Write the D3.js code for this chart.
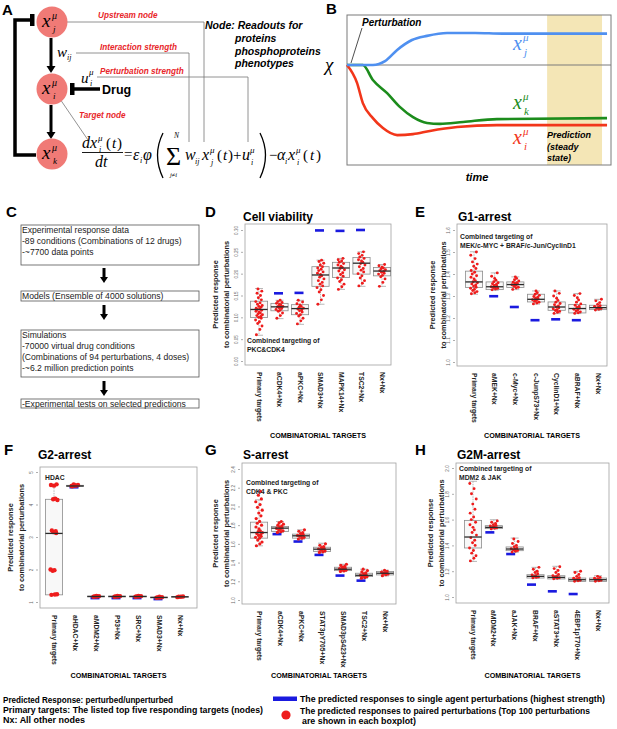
<!doctype html>
<html lang="en">
<head>
<meta charset="UTF-8">
<title>network model predictions</title>
<script src="https://cdn.jsdelivr.net/npm/d3@7"></script>
<style>
  body { margin: 0; background: #fff; }
  text { font-family: "Liberation Sans", Arial, sans-serif; }
  .ser { font-family: "Liberation Serif", "Times New Roman", serif; }
</style>
</head>
<body>
<svg width="617" height="729"></svg>
<script>
// ---------- panel B curves (time, relative level) ----------
const bBlueT  = [0, 9.8, 14.4, 19, 24.6, 30.3, 37.9, 48.5, 59, 73, 98.5];
const bBlueV  = [0, 0, 0.12, 0.47, 0.78, 0.91, 1.0, 1.0, 0.98, 0.98, 0.98];
const bGreenT = [0, 6, 9.8, 15.2, 20, 25, 30.3, 35.2, 44, 56.8, 98.5];
const bGreenV = [0, 0, -0.47, -0.88, -1.31, -1.63, -1.81, -1.84, -1.78, -1.69, -1.66];
const bRedT   = [0, 3.8, 6, 9.8, 13.6, 19, 25, 31.4, 41.7, 56.8, 98.5];
const bRedV   = [0, -0.56, -1.19, -1.66, -1.97, -2.19, -2.16, -2.06, -1.94, -1.88, -1.88];

// ---------- panel C text ----------
const cBoxes = [
  ["Experimental response data", "-89 conditions (Combinations of 12 drugs)", "-~7700 data points"],
  ["Models (Ensemble of 4000 solutions)"],
  ["Simulations", "-70000 virtual drug conditions", "(Combinations of 94 perturbations, 4 doses)", "-~6.2 million prediction points"],
  ["-Experimental tests on selected predictions"]
];

// ---------- boxplot panels: [low whisker, Q1, median, Q3, high whisker] ----------
const dCats = ["Primary targets", "aCDK4+Nx", "aPKC+Nx", "SMAD3+Nx", "MAPK14+Nx", "TSC2+Nx", "Nx+Nx"];
const dStats = [[0.059,0.0995,0.118,0.137,0.166],[0.097,0.115,0.124,0.132,0.139],[0.084,0.106,0.120,0.129,0.139],
  [0.130,0.171,0.197,0.216,0.231],[0.164,0.191,0.213,0.226,0.235],[0.171,0.199,0.224,0.237,0.250],[0.171,0.195,0.206,0.214,0.221]];
const dSingle = [null, 0.155, 0.156, 0.299, 0.298, 0.300, null];
const dPoints = [
  [0.060,0.072,0.080,0.086,0.090,0.094,0.098,0.100,0.102,0.104,0.106,0.108,0.110,0.112,0.114,0.116,0.118,0.119,0.121,0.123,0.125,0.127,0.130,0.133,0.136,0.140,0.145,0.150,0.155,0.160,0.165],
  [0.098,0.104,0.110,0.114,0.116,0.118,0.120,0.122,0.123,0.124,0.125,0.126,0.128,0.130,0.132,0.134,0.136,0.139],
  [0.085,0.092,0.098,0.103,0.106,0.109,0.112,0.115,0.117,0.119,0.121,0.123,0.125,0.128,0.131,0.135,0.139],
  [0.130,0.140,0.150,0.158,0.163,0.168,0.172,0.176,0.180,0.184,0.188,0.192,0.195,0.198,0.201,0.204,0.207,0.210,0.213,0.216,0.220,0.224,0.228,0.231],
  [0.164,0.170,0.176,0.182,0.186,0.190,0.194,0.198,0.202,0.206,0.209,0.212,0.214,0.217,0.220,0.223,0.226,0.229,0.232,0.235],
  [0.172,0.178,0.184,0.190,0.195,0.200,0.204,0.208,0.212,0.216,0.220,0.223,0.226,0.229,0.232,0.235,0.238,0.242,0.246,0.250],
  [0.171,0.180,0.188,0.193,0.196,0.199,0.201,0.203,0.205,0.207,0.209,0.211,0.213,0.215,0.218,0.221]
];
const dTicks = [0, 0.05, 0.10, 0.15, 0.20, 0.25, 0.30];

const eCats = ["Primary targets", "aMEK+Nx", "c-Myc+Nx", "c-JunpS73+Nx", "CyclinD1+Nx", "aBRAF+Nx", "Nx+Nx"];
const eStats = [[1.308,1.339,1.364,1.413,1.501],[1.326,1.329,1.342,1.364,1.405],[1.329,1.339,1.352,1.364,1.387],
  [1.263,1.273,1.285,1.308,1.323],[1.220,1.235,1.250,1.273,1.323],[1.220,1.223,1.243,1.261,1.311],[1.235,1.238,1.247,1.258,1.285]];
const eSingle = [null, 1.299, 1.250, 1.190, 1.194, 1.190, null];
const ePoints = [
  [1.310,1.315,1.320,1.325,1.330,1.335,1.340,1.345,1.350,1.355,1.360,1.365,1.370,1.378,1.385,1.392,1.400,1.408,1.416,1.425,1.435,1.445,1.455,1.470,1.485,1.500],
  [1.328,1.332,1.335,1.338,1.340,1.342,1.345,1.348,1.352,1.356,1.360,1.365,1.372,1.380,1.390,1.405],
  [1.330,1.336,1.340,1.344,1.348,1.351,1.354,1.357,1.360,1.363,1.368,1.374,1.380,1.387],
  [1.264,1.268,1.272,1.276,1.280,1.283,1.286,1.290,1.294,1.298,1.303,1.308,1.315,1.323],
  [1.221,1.226,1.230,1.234,1.238,1.242,1.246,1.250,1.255,1.260,1.266,1.272,1.280,1.290,1.300,1.312,1.323],
  [1.221,1.224,1.228,1.232,1.236,1.240,1.244,1.248,1.253,1.258,1.264,1.272,1.282,1.292,1.302,1.311],
  [1.236,1.240,1.243,1.246,1.249,1.252,1.256,1.262,1.270,1.278,1.285]
];
const eTicks = [1.0, 1.1, 1.2, 1.3, 1.4, 1.5, 1.6];

const fCats = ["Primary targets", "aHDAC+Nx", "aMDM2+Nx", "P53+Nx", "SRC+Nx", "SMAD3+Nx", "Nx+Nx"];
const fStats = [[1.22,1.22,3.11,4.16,4.59],[4.55,4.56,4.57,4.59,4.60],[1.15,1.16,1.17,1.18,1.19],
  [1.15,1.16,1.17,1.18,1.20],[1.15,1.16,1.17,1.18,1.19],[1.12,1.13,1.14,1.15,1.16],[1.15,1.155,1.16,1.165,1.17]];
const fSingle = [null, 4.53, 1.12, 1.12, 1.12, 1.09, null];
const fPoints = [
  [1.22,1.23,1.24,1.96,1.98,2.0,3.12,3.15,3.18,3.2,4.14,4.16,4.18,4.58,4.6,4.62],
  [4.56,4.58,4.6,4.62,4.59,4.57],
  [1.16,1.17,1.18,1.17,1.19],
  [1.16,1.17,1.18,1.17,1.19],
  [1.16,1.17,1.18,1.17,1.19],
  [1.13,1.14,1.15,1.14,1.16],
  [1.15,1.16,1.17,1.16]
];
const fTicks = [1, 2, 3, 4, 5];

const gCats = ["Primary targets", "aCDK4+Nx", "aPKC+Nx", "STAT3pY705+Nx", "SMAD3pS423+Nx", "TSC2+Nx", "Nx+Nx"];
const gStats = [[1.579,1.661,1.721,1.832,2.071],[1.721,1.732,1.768,1.786,1.839],[1.650,1.661,1.686,1.704,1.750],
  [1.507,1.518,1.543,1.564,1.607],[1.304,1.314,1.329,1.350,1.382],[1.232,1.250,1.264,1.286,1.329],[1.257,1.268,1.286,1.304,1.318]];
const gSingle = [null, 1.704, 1.625, 1.482, 1.261, 1.207, null];
const gPoints = [
  [1.58,1.60,1.62,1.64,1.66,1.67,1.68,1.69,1.70,1.71,1.72,1.73,1.74,1.76,1.78,1.80,1.82,1.84,1.87,1.90,1.93,1.96,1.99,2.02,2.05,2.08,2.12,2.16],
  [1.722,1.73,1.74,1.75,1.76,1.765,1.77,1.78,1.79,1.80,1.81,1.825,1.839],
  [1.652,1.66,1.67,1.68,1.685,1.69,1.70,1.71,1.72,1.735,1.75],
  [1.508,1.515,1.525,1.535,1.54,1.545,1.55,1.56,1.57,1.585,1.60],
  [1.305,1.31,1.318,1.325,1.33,1.335,1.34,1.35,1.36,1.37,1.382],
  [1.233,1.24,1.25,1.255,1.26,1.265,1.27,1.28,1.29,1.30,1.315,1.329],
  [1.26,1.27,1.278,1.285,1.29,1.298,1.305,1.318]
];
const gTicks = [1.0, 1.2, 1.4, 1.6, 1.8, 2.0, 2.2, 2.4];

const hCats = ["Primary targets", "aMDM2+Nx", "aJAK+Nx", "BRAF+Nx", "aSTAT3+Nx", "4EBP1pT70+Nx", "Nx+Nx"];
const hStats = [[1.276,1.380,1.465,1.594,1.897],[1.527,1.530,1.540,1.553,1.599],[1.346,1.359,1.372,1.388,1.457],
  [1.147,1.147,1.160,1.173,1.230],[1.140,1.140,1.152,1.165,1.238],[1.121,1.121,1.134,1.147,1.199],[1.121,1.121,1.134,1.147,1.165]];
const hSingle = [null, 1.501, 1.333, 1.096, 1.044, 1.023, null];
const hPoints = [
  [1.28,1.30,1.32,1.34,1.36,1.38,1.40,1.42,1.44,1.46,1.48,1.50,1.52,1.54,1.56,1.58,1.60,1.62,1.65,1.68,1.72,1.76,1.80,1.84,1.88],
  [1.528,1.532,1.536,1.54,1.545,1.55,1.555,1.56,1.57,1.58,1.59],
  [1.348,1.355,1.36,1.365,1.37,1.375,1.38,1.39,1.40,1.415,1.43,1.45],
  [1.148,1.152,1.156,1.16,1.165,1.17,1.18,1.19,1.20,1.215,1.23],
  [1.141,1.145,1.15,1.155,1.16,1.165,1.175,1.19,1.205,1.22,1.235],
  [1.122,1.126,1.13,1.135,1.14,1.145,1.15,1.16,1.175,1.19,1.2],
  [1.122,1.126,1.13,1.135,1.14,1.145,1.152,1.16]
];
const hTicks = [1.0, 1.2, 1.4, 1.6, 1.8, 2.0];

// fixed jitter pattern (fraction of half box width)
const jit = [-0.6,0.2,0.7,-0.3,0.1,-0.8,0.5,-0.1,0.4,-0.5,0.8,-0.2,0.3,0,-0.7,0.6,-0.4,0.15,-0.65,0.45,-0.05,0.75,-0.35,0.25,-0.75,0.55,-0.15,0.35,-0.45,0.65,-0.25];

let svg = d3.select("svg");
const RED = "#ee1c1c", BLUE = "#1a1adf";

// ================= panel A =================
let gA = svg.append("g");
gA.append("text").text("A").attr("x", 2).attr("y", 15).attr("font-size", 15).attr("font-weight", "bold");

// feedback bracket
gA.append("path").attr("d", "M36,155 H15 V20 H31").attr("fill", "none").attr("stroke", "#000").attr("stroke-width", 3.5);
gA.append("rect").attr("x", 30).attr("y", 14).attr("width", 4.5).attr("height", 12).attr("fill", "#000");

// arrows
function arrow(g, x, y1, y2, w, hw, hh) {
  g.append("line").attr("x1", x).attr("x2", x).attr("y1", y1).attr("y2", y2 - hh + 1)
    .attr("stroke", "#000").attr("stroke-width", w);
  g.append("path").attr("d", `M${x - hw / 2},${y2 - hh} L${x + hw / 2},${y2 - hh} L${x},${y2} Z`).attr("fill", "#000");
}
arrow(gA, 51, 38, 73, 3, 9, 7);
arrow(gA, 51, 105, 139, 3, 9, 7);

// gray connector lines
const conn = "#777";
gA.append("path").attr("d", "M63,22 H204 V142").attr("fill", "none").attr("stroke", conn).attr("stroke-width", 0.8);
gA.append("path").attr("d", "M76,53 H189 V142").attr("fill", "none").attr("stroke", conn).attr("stroke-width", 0.8);
gA.append("path").attr("d", "M97,77 H248 V142").attr("fill", "none").attr("stroke", conn).attr("stroke-width", 0.8);
gA.append("line").attr("x1", 60).attr("y1", 99).attr("x2", 88).attr("y2", 140).attr("stroke", conn).attr("stroke-width", 0.8);

// nodes
[["j", 22], ["i", 89], ["k", 154]].forEach(([s, cy]) => {
  gA.append("circle").attr("cx", 52).attr("cy", cy).attr("r", 15.5).attr("fill", "#f07a76");
  gA.append("text").attr("class", "ser").attr("x", 42).attr("y", cy + 5).attr("font-size", 19).attr("font-style", "italic").text("x");
  gA.append("text").attr("class", "ser").attr("x", 52).attr("y", cy - 3).attr("font-size", 10).attr("font-style", "italic").text("μ");
  gA.append("text").attr("class", "ser").attr("x", 53).attr("y", cy + 10).attr("font-size", 9).attr("font-style", "italic").text(s);
});

// drug inhibition
gA.append("line").attr("x1", 73).attr("x2", 100).attr("y1", 89).attr("y2", 89).attr("stroke", "#000").attr("stroke-width", 3.5);
gA.append("rect").attr("x", 70).attr("y", 83).attr("width", 4.5).attr("height", 12).attr("fill", "#000");
gA.append("text").attr("x", 102).attr("y", 94).attr("font-size", 12.5).attr("font-weight", "bold").text("Drug");

gA.append("text").attr("class", "ser").attr("x", 57).attr("y", 57).attr("font-size", 15).attr("font-style", "italic").text("w");
gA.append("text").attr("class", "ser").attr("x", 67).attr("y", 60).attr("font-size", 8).attr("font-style", "italic").text("ij");
gA.append("text").attr("class", "ser").attr("x", 81).attr("y", 83).attr("font-size", 15).attr("font-style", "italic").text("u");
gA.append("text").attr("class", "ser").attr("x", 89).attr("y", 75).attr("font-size", 9).attr("font-style", "italic").text("μ");
gA.append("text").attr("class", "ser").attr("x", 90).attr("y", 86).attr("font-size", 8).attr("font-style", "italic").text("i");

const redLab = [["Upstream node", 98, 18], ["Interaction strength", 100, 50], ["Perturbation strength", 100, 74], ["Target node", 79, 118]];
redLab.forEach(([t, x, y]) => gA.append("text").attr("x", x).attr("y", y).attr("font-size", 8.2)
  .attr("font-weight", "bold").attr("font-style", "italic").attr("fill", "#e8262a").text(t));

[["Node: Readouts for", 205, 29], ["proteins", 235, 42], ["phosphoproteins", 235, 55], ["phenotypes", 235, 67]]
  .forEach(([t, x, y]) => gA.append("text").attr("x", x).attr("y", y).attr("font-size", 10.5)
    .attr("font-weight", "bold").attr("font-style", "italic").text(t));

// equation pieces [text, x, baseline, size, italic]
const eq = [
  ["d", 82, 148, 16, 1], ["x", 90, 148, 16, 1], ["μ", 98, 141, 9, 1], ["i", 99, 152, 8, 1],
  ["(", 106, 148, 15, 0], ["t", 112, 148, 15, 1], [")", 117, 148, 15, 0],
  ["dt", 95, 167, 16, 1], ["=", 124, 159, 15, 0],
  ["ε", 133, 160, 16, 1], ["i", 140, 163, 8, 1], ["φ", 143, 160, 16, 1],
  ["Σ", 166, 165, 26, 0], ["N", 174, 138, 7.5, 1], ["j≠i", 170, 177, 6.5, 1],
  ["w", 185, 160, 16, 1], ["ij", 195, 164, 8, 1], ["x", 202, 160, 16, 1], ["μ", 210, 153, 9, 1], ["j", 211, 165, 8, 1],
  ["(", 217, 160, 15, 0], ["t", 223, 160, 15, 1], [")", 228, 160, 15, 0],
  ["+", 233, 160, 15, 0], ["u", 242, 160, 16, 1], ["μ", 250, 153, 9, 1], ["i", 251, 165, 8, 1],
  ["−", 269, 160, 15, 0], ["α", 277, 160, 16, 1], ["i", 285, 164, 8, 1], ["x", 288, 160, 16, 1], ["μ", 296, 153, 9, 1], ["i", 297, 165, 8, 1],
  ["(", 303, 160, 15, 0], ["t", 310, 160, 15, 1], [")", 316, 160, 15, 0]
];
eq.forEach(([t, x, y, s, it]) => gA.append("text").attr("class", "ser").attr("x", x).attr("y", y)
  .attr("font-size", s).attr("font-style", it ? "italic" : "normal").text(t));
gA.append("line").attr("x1", 82).attr("x2", 123).attr("y1", 152.5).attr("y2", 152.5).attr("stroke", "#000").attr("stroke-width", 0.9);
// big parentheses
gA.append("path").attr("d", "M163,133 Q152,155 163,178").attr("fill", "none").attr("stroke", "#000").attr("stroke-width", 1.3);
gA.append("path").attr("d", "M260,133 Q271,155 260,178").attr("fill", "none").attr("stroke", "#000").attr("stroke-width", 1.3);

// ================= panel B =================
let gB = svg.append("g");
gB.append("text").text("B").attr("x", 326).attr("y", 14).attr("font-size", 15).attr("font-weight", "bold");
const bx = d3.scaleLinear().domain([0, 100]).range([347, 611]);
const by = d3.scaleLinear().domain([-3.125, 1.5625]).range([165, 15]);
gB.append("rect").attr("x", bx(75.8)).attr("y", 15).attr("width", bx(96.6) - bx(75.8)).attr("height", 150).attr("fill", "#f4e6b6");
gB.append("rect").attr("x", 347).attr("y", 15).attr("width", 264).attr("height", 150).attr("fill", "none").attr("stroke", "#7a7a7a").attr("stroke-width", 1);
gB.append("line").attr("x1", 347).attr("x2", 611).attr("y1", by(0)).attr("y2", by(0)).attr("stroke", "#7a7a7a").attr("stroke-width", 1);
const bLine = d3.line().x(d => bx(d[0])).y(d => by(d[1])).curve(d3.curveMonotoneX);
[[bGreenT, bGreenV, "#1c8c1c"], [bRedT, bRedV, "#f2361a"], [bBlueT, bBlueV, "#4f90f0"]].forEach(([t, v, c]) => {
  gB.append("path").attr("d", bLine(t.map((d, i) => [d, v[i]]))).attr("fill", "none").attr("stroke", c).attr("stroke-width", 2.6);
});
gB.append("text").attr("class", "ser").attr("x", 325).attr("y", 71).attr("font-size", 19).attr("font-style", "italic").text("χ");
gB.append("text").attr("x", 362).attr("y", 26).attr("font-size", 10).attr("font-weight", "bold").attr("font-style", "italic").text("Perturbation");
gB.append("line").attr("x1", 362).attr("y1", 28).attr("x2", 351).attr("y2", 63).attr("stroke", "#222").attr("stroke-width", 0.8);
[["j", 50, "#4f90f0"], ["k", 109, "#1c8c1c"], ["i", 144, "#f2361a"]].forEach(([s, y, c]) => {
  gB.append("text").attr("class", "ser").attr("x", 513).attr("y", y).attr("font-size", 20).attr("font-style", "italic").attr("fill", c).text("x");
  gB.append("text").attr("class", "ser").attr("x", 523).attr("y", y - 9).attr("font-size", 11).attr("font-style", "italic").attr("fill", c).text("μ");
  gB.append("text").attr("class", "ser").attr("x", 524).attr("y", y + 6).attr("font-size", 11).attr("font-style", "italic").attr("fill", c).text(s);
});
[["Prediction", 138], ["(steady", 150], ["state)", 161]].forEach(([t, y]) =>
  gB.append("text").attr("x", 547).attr("y", y).attr("font-size", 9).attr("font-weight", "bold").attr("font-style", "italic").text(t));
gB.append("text").attr("x", 477).attr("y", 181).attr("text-anchor", "middle").attr("font-size", 11).attr("font-weight", "bold").attr("font-style", "italic").text("time");

// ================= panel C =================
let gC = svg.append("g");
gC.append("text").text("C").attr("x", 6).attr("y", 217).attr("font-size", 15).attr("font-weight", "bold");
const cBoxY = [[225, 265], [291, 301], [330, 377], [399, 408]];
cBoxes.forEach((lines, i) => {
  const [y0, y1] = cBoxY[i];
  gC.append("rect").attr("x", 21).attr("y", y0).attr("width", 178).attr("height", y1 - y0)
    .attr("fill", "none").attr("stroke", "#555").attr("stroke-width", 0.8);
  lines.forEach((t, j) => gC.append("text").attr("x", 22).attr("y", y0 + 8.3 + j * 11).attr("font-size", 8.6).attr("fill", "#222").text(t));
});
arrow(gC, 104, 268, 283, 3, 8, 6);
arrow(gC, 104, 305, 320, 3, 8, 6);
arrow(gC, 104, 381, 396, 3, 8, 6);

// ================= boxplot panels =================
function boxPanel(p) {
  const g = svg.append("g");
  const x = d3.scalePoint().domain(p.cats).range([p.c0, p.c1]);
  const y = d3.scaleLinear().domain(p.dom).range(p.yr);
  const hw = 8.6;

  g.append("text").text(p.letter).attr("x", p.lx).attr("y", p.ly).attr("font-size", 15).attr("font-weight", "bold");
  g.append("text").text(p.title).attr("x", p.tx).attr("y", p.ly + 4).attr("font-size", 12).attr("font-weight", "bold");

  g.append("rect").attr("x", p.x0).attr("y", p.y0).attr("width", p.x1 - p.x0).attr("height", p.y1 - p.y0)
    .attr("fill", "none").attr("stroke", "#a0a0a0").attr("stroke-width", 0.8);

  const ax = g.append("g").attr("transform", `translate(${p.x0 - 2},0)`)
    .call(d3.axisLeft(y).tickValues(p.ticks).tickFormat(p.fmt).tickSize(2).tickPadding(0));
  ax.select(".domain").remove();
  ax.selectAll("line").attr("stroke", "#777").attr("stroke-width", 0.6);
  ax.selectAll("text").attr("x", null).attr("dy", null).attr("text-anchor", "middle")
    .attr("transform", "translate(-5,0) rotate(-90)").attr("font-size", 4.5).attr("fill", "#666")
    .attr("font-family", "Liberation Sans, Arial, sans-serif");

  // y title
  const ym = (p.y0 + p.y1) / 2;
  [["Predicted response", p.yt], ["to combinatorial perturbations", p.yt + 11]].forEach(([t, xx]) =>
    g.append("text").attr("transform", `translate(${xx},${ym}) rotate(-90)`).attr("dy", "0.35em")
      .attr("text-anchor", "middle").attr("font-size", 7.4).attr("font-weight", "bold").attr("fill", "#222").text(t));

  // single agent bars
  p.single.forEach((v, i) => {
    if (v == null) return;
    g.append("rect").attr("x", x(p.cats[i]) - 5.5 + p.bo).attr("y", y(v) - 1.3).attr("width", 9).attr("height", 2.6).attr("fill", BLUE);
  });

  // boxes
  p.stats.forEach((s, i) => {
    const cx = x(p.cats[i]);
    const [lo, q1, md, q3, hi] = s.map(y);
    const bg = g.append("g");
    bg.append("line").attr("x1", cx).attr("x2", cx).attr("y1", hi).attr("y2", q3).attr("stroke", "#999").attr("stroke-width", 0.7).attr("stroke-dasharray", "1.5,1");
    bg.append("line").attr("x1", cx).attr("x2", cx).attr("y1", q1).attr("y2", lo).attr("stroke", "#999").attr("stroke-width", 0.7).attr("stroke-dasharray", "1.5,1");
    bg.append("line").attr("x1", cx - 4).attr("x2", cx + 4).attr("y1", hi).attr("y2", hi).attr("stroke", "#999").attr("stroke-width", 0.7);
    bg.append("line").attr("x1", cx - 4).attr("x2", cx + 4).attr("y1", lo).attr("y2", lo).attr("stroke", "#999").attr("stroke-width", 0.7);
    bg.append("rect").attr("x", cx - hw).attr("y", q3).attr("width", hw * 2).attr("height", Math.max(q1 - q3, 0.5))
      .attr("fill", "rgba(235,235,235,0.35)").attr("stroke", "#8c8c8c").attr("stroke-width", 0.8);
  });

  // paired perturbation points
  p.points.forEach((vals, i) => {
    const cx = x(p.cats[i]);
    g.selectAll(null).data(vals).enter().append("circle")
      .attr("cx", (d, k) => cx + jit[k % jit.length] * hw * 0.5)
      .attr("cy", d => y(d)).attr("r", p.pr).attr("fill", RED);
  });

  // medians on top
  p.stats.forEach((s, i) => {
    const cx = x(p.cats[i]);
    g.append("line").attr("x1", cx - hw).attr("x2", cx + hw).attr("y1", y(s[2])).attr("y2", y(s[2]))
      .attr("stroke", "#2a2a2a").attr("stroke-width", 1.3);
  });

  // category labels
  p.cats.forEach(c => g.append("text").attr("transform", `translate(${x(c)},${p.y1 + 7}) rotate(90)`)
    .attr("dy", "0.35em").attr("font-size", 6.8).attr("font-weight", "bold").attr("fill", "#222").text(c));

  g.append("text").attr("x", (p.x0 + p.x1) / 2).attr("y", p.xty).attr("text-anchor", "middle")
    .attr("font-size", 7.5).attr("font-weight", "bold").attr("textLength", 96).attr("lengthAdjust", "spacingAndGlyphs")
    .text("COMBINATORIAL TARGETS");

  (p.note || []).forEach(([t, yy]) => g.append("text").attr("x", p.nx).attr("y", yy).attr("font-size", 6.8)
    .attr("font-weight", "bold").attr("fill", "#222").text(t));
}

const f2 = d3.format(".2f"), f1 = d3.format(".1f"), f0 = d3.format("d");
boxPanel({letter: "D", lx: 205, ly: 217, title: "Cell viability", tx: 243, cats: dCats, stats: dStats, single: dSingle, points: dPoints,
  x0: 245, x1: 391, y0: 224, y1: 365, c0: 259, c1: 382, dom: [0, 0.30], yr: [361, 230], ticks: dTicks, fmt: f2,
  yt: 215, xty: 438, pr: 1.45, bo: 0, nx: 247, note: [["Combined targeting of", 343], ["PKC&CDK4", 351.5]]});
boxPanel({letter: "E", lx: 415, ly: 217, title: "G1-arrest", tx: 458, cats: eCats, stats: eStats, single: eSingle, points: ePoints,
  x0: 457, x1: 607, y0: 224, y1: 366, c0: 474, c1: 598, dom: [1.0, 1.6], yr: [362, 230], ticks: eTicks, fmt: f1,
  yt: 432, xty: 438, pr: 1.45, bo: 0, nx: 460, note: [["Combined targeting of", 239], ["MEK/c-MYC + BRAF/c-Jun/CyclinD1", 247.5]]});
boxPanel({letter: "F", lx: 4, ly: 455, title: "G2-arrest", tx: 38, cats: fCats, stats: fStats, single: fSingle, points: fPoints,
  x0: 40, x1: 197, y0: 467, y1: 608, c0: 54, c1: 180, dom: [1, 5], yr: [602, 472], ticks: fTicks, fmt: f0,
  yt: 10, xty: 678, pr: 2.2, bo: 0, nx: 45, note: [["HDAC", 480]]});
boxPanel({letter: "G", lx: 205, ly: 455, title: "S-arrest", tx: 243, cats: gCats, stats: gStats, single: gSingle, points: gPoints,
  x0: 242, x1: 396, y0: 463, y1: 604, c0: 259, c1: 385, dom: [1.0, 2.4], yr: [600, 469], ticks: gTicks, fmt: f1,
  yt: 215, xty: 678, pr: 1.6, bo: -2, nx: 246, note: [["Combined targeting of", 485], ["CDK4 & PKC", 493.5]]});
boxPanel({letter: "H", lx: 415, ly: 455, title: "G2M-arrest", tx: 457, cats: hCats, stats: hStats, single: hSingle, points: hPoints,
  x0: 456, x1: 609, y0: 463, y1: 603, c0: 473, c1: 598, dom: [1.0, 2.0], yr: [597, 468], ticks: hTicks, fmt: f1,
  yt: 430, xty: 678, pr: 1.45, bo: -3, nx: 459, note: [["Combined targeting of", 471], ["MDM2 & JAK", 479.5]]});

// ================= bottom legend =================
let gL = svg.append("g");
[["Predicted Response: perturbed/unperturbed", 703, 170], ["Primary targets: The listed top five responding targets (nodes)", 713, 260], ["Nx: All other  nodes", 723, 82]]
  .forEach(([t, y, w]) => gL.append("text").attr("x", 3).attr("y", y).attr("font-size", 8.6).attr("font-weight", "bold")
    .attr("textLength", w).attr("lengthAdjust", "spacingAndGlyphs").text(t));
gL.append("rect").attr("x", 273).attr("y", 696.5).attr("width", 24).attr("height", 4.5).attr("fill", BLUE);
gL.append("circle").attr("cx", 286).attr("cy", 715).attr("r", 4.6).attr("fill", RED);
[["The predicted responses to single agent perturbations (highest strength)", 300, 702, 305],
 ["The predicted responses to paired perturbations  (Top 100 perturbations", 300, 714, 290],
 [" are shown in each boxplot)", 302, 724, 114]]
  .forEach(([t, x, y, w]) => gL.append("text").attr("x", x).attr("y", y).attr("font-size", 8.6).attr("font-weight", "bold")
    .attr("textLength", w).attr("lengthAdjust", "spacingAndGlyphs").text(t));
</script>
</body>
</html>
